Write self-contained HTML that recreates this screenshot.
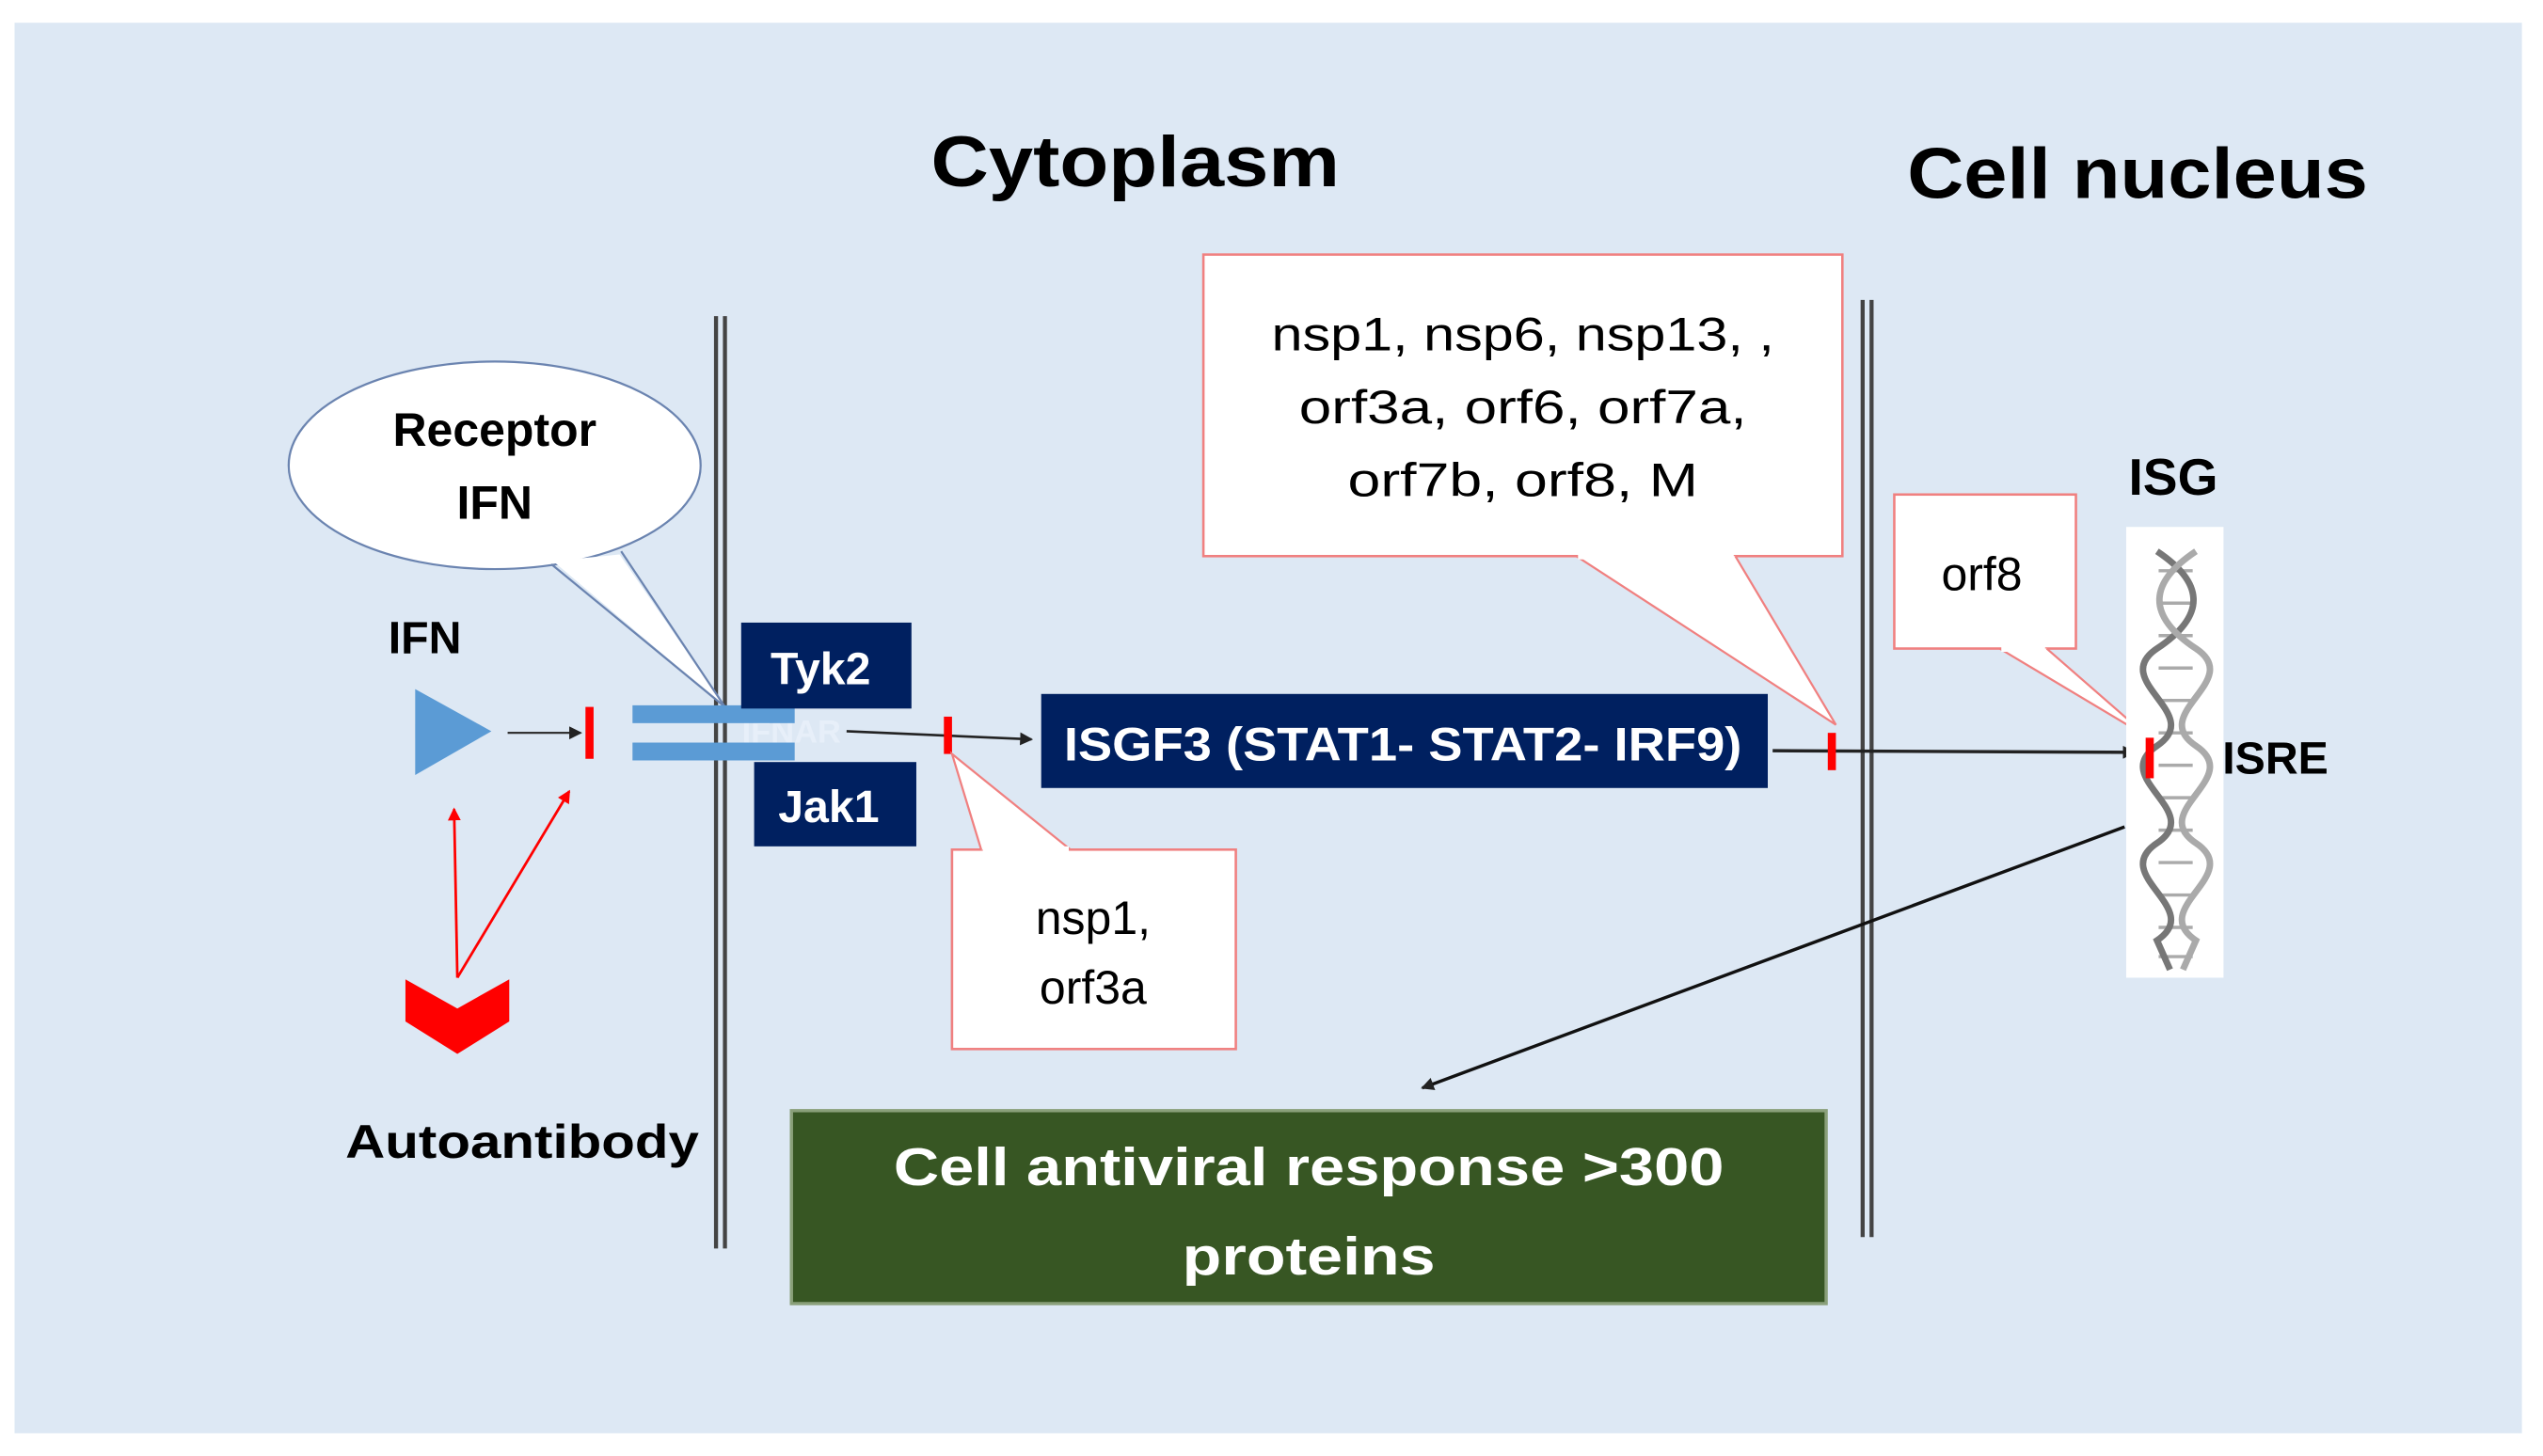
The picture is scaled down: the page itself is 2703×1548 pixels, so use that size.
<!DOCTYPE html>
<html><head><meta charset="utf-8"><style>
html,body{margin:0;padding:0;background:#fff;}
svg{display:block;}
text{font-family:"Liberation Sans","DejaVu Sans",sans-serif;}
</style></head><body>
<svg width="2703" height="1548" viewBox="0 0 1568 898" preserveAspectRatio="none" xmlns="http://www.w3.org/2000/svg">
<defs>
<marker id="ah" markerWidth="8" markerHeight="8" refX="7" refY="4" orient="auto" markerUnits="userSpaceOnUse"><path d="M0,0 L8,4 L0,8 z" fill="#222"/></marker>
<marker id="ahr" markerWidth="8" markerHeight="8" refX="7" refY="4" orient="auto" markerUnits="userSpaceOnUse"><path d="M0,0 L8,4 L0,8 z" fill="#f00"/></marker>
</defs>
<rect x="0" y="0" width="1568" height="898" fill="#fff"/>
<rect x="9" y="14" width="1546" height="870" fill="#dde8f4"/>

<text x="700" y="115" font-size="44" font-weight="bold" text-anchor="middle" textLength="252" lengthAdjust="spacingAndGlyphs">Cytoplasm</text>
<text x="1318" y="122" font-size="44" font-weight="bold" text-anchor="middle" textLength="284" lengthAdjust="spacingAndGlyphs">Cell nucleus</text>

<line x1="441.5" y1="195" x2="441.5" y2="770" stroke="#444" stroke-width="2.5"/>
<line x1="447" y1="195" x2="447" y2="770" stroke="#444" stroke-width="2.5"/>
<line x1="1148.5" y1="185" x2="1148.5" y2="763" stroke="#444" stroke-width="2.5"/>
<line x1="1154" y1="185" x2="1154" y2="763" stroke="#444" stroke-width="2.5"/>

<ellipse cx="305" cy="287" rx="127" ry="64" fill="#fff" stroke="#6b84b0" stroke-width="1.3"/>
<path d="M341,346 L447,436 L382,342 z" fill="#fff"/>
<line x1="340" y1="348" x2="447" y2="436" stroke="#6b84b0" stroke-width="1.3"/>
<line x1="383" y1="340" x2="447" y2="436" stroke="#6b84b0" stroke-width="1.3"/>
<text x="305" y="275" font-size="29" font-weight="bold" text-anchor="middle">Receptor</text>
<text x="305" y="320" font-size="29" font-weight="bold" text-anchor="middle">IFN</text>

<text x="262" y="403" font-size="28" font-weight="bold" text-anchor="middle">IFN</text>
<polygon points="256,425 256,478 303,451" fill="#5b9bd5"/>
<line x1="313" y1="452" x2="358" y2="452" stroke="#333" stroke-width="1.3" marker-end="url(#ah)"/>
<rect x="361" y="436" width="5" height="32" fill="#f00"/>

<text x="488" y="458" font-size="20" font-weight="bold" fill="#eef4fb" fill-opacity="0.6" text-anchor="middle">IFNAR</text>
<rect x="390" y="435" width="100" height="11" fill="#5b9bd5"/>
<rect x="390" y="458" width="100" height="11" fill="#5b9bd5"/>

<rect x="457" y="384" width="105" height="53" fill="#002060"/>
<text x="506" y="422" font-size="28" font-weight="bold" fill="#fff" text-anchor="middle">Tyk2</text>
<rect x="465" y="470" width="100" height="52" fill="#002060"/>
<text x="511" y="507" font-size="28" font-weight="bold" fill="#fff" text-anchor="middle">Jak1</text>

<line x1="522" y1="451" x2="636" y2="456" stroke="#222" stroke-width="1.5" marker-end="url(#ah)"/>
<rect x="582" y="442" width="5" height="23" fill="#f00"/>

<rect x="642" y="428" width="448" height="58" fill="#002060"/>
<text x="865" y="469" font-size="29" font-weight="bold" fill="#fff" text-anchor="middle" textLength="418" lengthAdjust="spacingAndGlyphs">ISGF3 (STAT1- STAT2- IRF9)</text>

<line x1="1093" y1="463" x2="1316" y2="464" stroke="#222" stroke-width="2" marker-end="url(#ah)"/>
<rect x="1127" y="452" width="5" height="23" fill="#f00"/>

<rect x="742" y="157" width="394" height="186" fill="#fff" stroke="#f08080" stroke-width="1.5"/>
<path d="M972,343 L1132,447 L1070,343" fill="#fff" stroke="#f08080" stroke-width="1.3"/>
<rect x="973" y="341" width="96" height="4" fill="#fff"/>
<text x="939" y="216" font-size="29" text-anchor="middle" textLength="310" lengthAdjust="spacingAndGlyphs">nsp1, nsp6, nsp13, ,</text>
<text x="939" y="261" font-size="29" text-anchor="middle" textLength="276" lengthAdjust="spacingAndGlyphs">orf3a, orf6, orf7a,</text>
<text x="939" y="306" font-size="29" text-anchor="middle" textLength="216" lengthAdjust="spacingAndGlyphs">orf7b, orf8, M</text>

<rect x="1168" y="305" width="112" height="95" fill="#fff" stroke="#f08080" stroke-width="1.5"/>
<path d="M1233,400 L1325,455 L1262,400" fill="#fff" stroke="#f08080" stroke-width="1.3"/>
<rect x="1234" y="398" width="27" height="4" fill="#fff"/>
<text x="1222" y="364" font-size="29" text-anchor="middle">orf8</text>

<rect x="587" y="524" width="175" height="123" fill="#fff" stroke="#f08080" stroke-width="1.5"/>
<path d="M605,524 L587,465 L660,524" fill="#fff" stroke="#f08080" stroke-width="1.3"/>
<rect x="606" y="522" width="53" height="4" fill="#fff"/>
<text x="674" y="576" font-size="29" text-anchor="middle">nsp1,</text>
<text x="674" y="619" font-size="29" text-anchor="middle">orf3a</text>

<text x="1340" y="305" font-size="32" font-weight="bold" text-anchor="middle">ISG</text>
<rect x="1311" y="325" width="60" height="278" fill="#fff"/>
<g stroke="#aaa" stroke-width="2">
<line x1="1331" y1="352" x2="1352" y2="352"/><line x1="1331" y1="372" x2="1352" y2="372"/><line x1="1331" y1="392" x2="1352" y2="392"/><line x1="1331" y1="412" x2="1352" y2="412"/><line x1="1331" y1="432" x2="1352" y2="432"/><line x1="1331" y1="452" x2="1352" y2="452"/><line x1="1331" y1="472" x2="1352" y2="472"/><line x1="1331" y1="492" x2="1352" y2="492"/><line x1="1331" y1="512" x2="1352" y2="512"/><line x1="1331" y1="532" x2="1352" y2="532"/><line x1="1331" y1="552" x2="1352" y2="552"/><line x1="1331" y1="572" x2="1352" y2="572"/><line x1="1331" y1="590" x2="1352" y2="590"/>
</g>
<path d="M1330,340 C1360,360 1360,380 1330,400 C1300,420 1360,440 1330,460 C1300,480 1360,500 1330,520 C1300,540 1360,560 1330,580 L1338,598" fill="none" stroke="#777" stroke-width="4"/>
<path d="M1354,340 C1324,360 1324,380 1354,400 C1384,420 1324,440 1354,460 C1384,480 1324,500 1354,520 C1384,540 1324,560 1354,580 L1346,598" fill="none" stroke="#aaa" stroke-width="4"/>
<rect x="1323" y="455" width="5" height="25" fill="#f00"/>
<text x="1403" y="477" font-size="28" font-weight="bold" text-anchor="middle">ISRE</text>

<line x1="1310" y1="510" x2="877" y2="671" stroke="#111" stroke-width="2" marker-end="url(#ah)"/>

<rect x="488" y="685" width="638" height="119" fill="#375623" stroke="#8aa07a" stroke-width="2"/>
<text x="807" y="731" font-size="33" font-weight="bold" fill="#fff" text-anchor="middle" textLength="512" lengthAdjust="spacingAndGlyphs">Cell antiviral response &gt;300</text>
<text x="807" y="786" font-size="33" font-weight="bold" fill="#fff" text-anchor="middle" textLength="156" lengthAdjust="spacingAndGlyphs">proteins</text>

<polygon points="250,604 282,622 314,604 314,630 282,650 250,630" fill="#f00"/>
<line x1="282" y1="603" x2="280" y2="499" stroke="#f00" stroke-width="1.6" marker-end="url(#ahr)"/>
<line x1="282" y1="603" x2="351" y2="488" stroke="#f00" stroke-width="1.6" marker-end="url(#ahr)"/>
<text x="322" y="714" font-size="29" font-weight="bold" text-anchor="middle" textLength="218" lengthAdjust="spacingAndGlyphs">Autoantibody</text>
</svg>
</body></html>
